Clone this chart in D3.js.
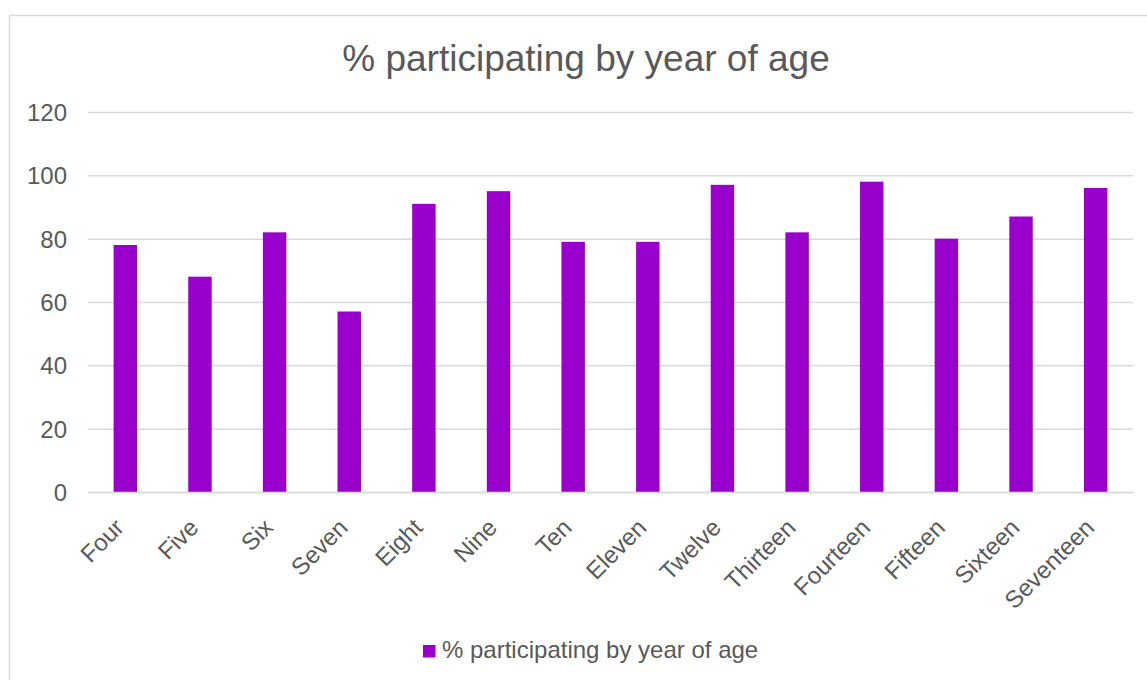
<!DOCTYPE html>
<html>
<head>
<meta charset="utf-8">
<script src="https://cdn.jsdelivr.net/npm/d3@7"></script>
<style>
  body { margin: 0; background: #fff; }
  text { font-family: "Liberation Sans", Arial, sans-serif; fill: #595959; }
</style>
</head>
<body>
<svg id="chart" width="1147" height="680"></svg>
<script>
// data
const ages = ["Four", "Five", "Six", "Seven", "Eight", "Nine", "Ten", "Eleven",
  "Twelve", "Thirteen", "Fourteen", "Fifteen", "Sixteen", "Seventeen"];
const participation = [78, 68, 82, 57, 91, 95, 79, 79, 97, 82, 98, 80, 87, 96];
const yTicks = [0, 20, 40, 60, 80, 100, 120];
const seriesName = "% participating by year of age";

const svg = d3.select("#chart");
const margin = { left: 88, right: 1133, top: 112, bottom: 492 };
const barColor = "#9900cc";

// chart border
svg.append("rect")
  .attr("x", 9.5).attr("y", 15.5)
  .attr("width", 1160).attr("height", 700)
  .attr("fill", "none").attr("stroke", "#d9d9d9").attr("stroke-width", 1.5);

const x = d3.scaleBand()
  .domain(ages)
  .range([margin.left, margin.right])
  .paddingInner(0.686)
  .paddingOuter(0.343);

const y = d3.scaleLinear()
  .domain([0, 120])
  .range([margin.bottom, margin.top]);

// gridlines + y labels
const yAxis = d3.axisLeft(y)
  .tickValues(yTicks)
  .tickSize(-(margin.right - margin.left))
  .tickPadding(21);

svg.append("g")
  .attr("transform", `translate(${margin.left},0)`)
  .call(yAxis)
  .call(g => g.select(".domain").remove())
  .call(g => g.selectAll(".tick line").attr("stroke", "#d9d9d9").attr("stroke-width", 1.5))
  .call(g => g.selectAll(".tick text")
    .attr("fill", "#595959")
    .style("font-size", "24px")
    .attr("dy", "0.36em"));

// bars
svg.append("g")
  .selectAll("rect")
  .data(participation)
  .join("rect")
  .attr("x", (d, i) => x(ages[i]))
  .attr("y", d => y(d))
  .attr("width", x.bandwidth())
  .attr("height", d => y(0) - y(d))
  .attr("fill", barColor);

// x axis
const xAxis = d3.axisBottom(x).tickSize(0).tickPadding(0);
svg.append("g")
  .attr("transform", `translate(0,${margin.bottom})`)
  .call(xAxis)
  .call(g => g.select(".domain").attr("stroke", "#d9d9d9").attr("stroke-width", 1.5))
  .call(g => g.selectAll(".tick text")
    .attr("fill", "#595959")
    .style("font-size", "24px")
    .attr("text-anchor", "end")
    .attr("dy", null)
    .attr("y", 0)
    .attr("transform", "translate(0,37) rotate(-45)"));

// title
svg.append("text")
  .attr("x", 586).attr("y", 71)
  .attr("text-anchor", "middle")
  .style("font-size", "37px")
  .text(seriesName);

// legend
const legend = svg.append("g").attr("transform", "translate(423,645)");
legend.append("rect")
  .attr("width", 12.5).attr("height", 12.5)
  .attr("fill", barColor);
legend.append("text")
  .attr("x", 19).attr("y", 13)
  .style("font-size", "24px")
  .text(seriesName);
</script>
</body>
</html>
